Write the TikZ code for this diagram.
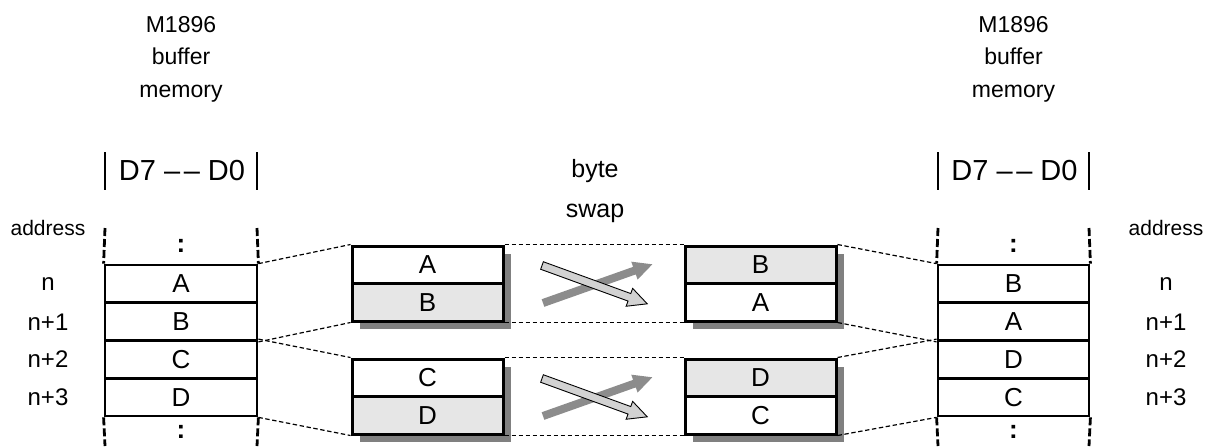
\documentclass[tikz,border=0pt]{standalone}
\usepackage{fontspec}
\setmainfont{Liberation Sans}
\usetikzlibrary{shadows}

\definecolor{cellgray}{HTML}{E6E6E6}
\definecolor{shadowgray}{HTML}{808080}
\definecolor{arrowdark}{HTML}{8C8C8C}
\definecolor{arrowlight}{HTML}{D2D2D2}

% fat arrow: start, angle, length, style
\newcommand{\fatarrow}[4]{%
  \begin{scope}[shift={#1}, rotate=#2]
    \filldraw[#4] (0,-4) -- (#3-19,-4) -- (#3-19,-9.5) -- (#3,0) -- (#3-19,9.5) -- (#3-19,4) -- (0,4) -- cycle;
  \end{scope}}

\begin{document}
\begin{tikzpicture}[x=0.5pt, y=-0.5pt,
  cell/.style={draw, line width=1.4pt, minimum width=76pt, minimum height=18.875pt, inner sep=0pt, font=\fontsize{13}{15}\selectfont},
  swapcell/.style={cell, line width=1.5pt, minimum width=75.5pt, minimum height=18.75pt, fill=white,
    drop shadow={shadow xshift=4pt, shadow yshift=-4pt, fill=shadowgray, opacity=1}},
  hi/.style={fill=cellgray},
  memdash/.style={line width=1.4pt, dash pattern=on 4pt off 1.5pt},
  link/.style={line width=0.6pt, dash pattern=on 2.2pt off 1.3pt},
  head/.style={align=center, font=\fontsize{11.5}{16.25}\selectfont},
  bits/.style={font=\fontsize{14.5}{16}\selectfont},
  addr/.style={font=\fontsize{12}{14}\selectfont},
  dots/.style={font=\fontsize{13}{15}\selectfont\bfseries}]
  \useasboundingbox (0,0) rectangle (1213,446);

  % Left buffer memory
  \node[head] (lhead) at (181,59) {M1896\\buffer\\memory};
  \node[bits] (lbits) at (182,171) {D7 \textendash\kern1.8pt\textendash{} D0};
  \draw[line width=0.7pt] (105,152) -- (105,190);
  \draw[line width=0.7pt] (257,152) -- (257,190);
  \node[font=\fontsize{10.5}{12}\selectfont] (laddr) at (48,228) {address};

  \node[cell] (L1) at (181,283.9) {A};
  \node[cell] (L2) at (181,321.6) {B};
  \node[cell] (L3) at (181,359.4) {C};
  \node[cell] (L4) at (181,397.1) {D};
  \node[dots] (ldot1) at (181,246) {:};
  \node[dots] (ldot2) at (181,432) {:};
  \draw[memdash] (105,228) -- (L1.north west);
  \draw[memdash] (257,228) -- (L1.north east);
  \draw[memdash] (L4.south west) -- (105,446);
  \draw[memdash] (L4.south east) -- (257,446);

  \node[addr] (ln0) at (48,284) {n};
  \node[addr] (ln1) at (48,322) {n+1};
  \node[addr] (ln2) at (48,359) {n+2};
  \node[addr] (ln3) at (48,397) {n+3};

  % Byte swap
  \node[align=center, font=\fontsize{12.5}{20}\selectfont] (swaplbl) at (595,191) {byte\\swap};

  \node[swapcell] (a1) at (427.5,264.75) {A};
  \node[swapcell, hi] (b1) at (427.5,302.25) {B};
  \node[swapcell] (c1) at (427.5,377.75) {C};
  \node[swapcell, hi] (d1) at (427.5,415.25) {D};

  \node[swapcell, hi] (b2) at (760.5,264.75) {B};
  \node[swapcell] (a2) at (760.5,302.25) {A};
  \node[swapcell, hi] (d2) at (760.5,377.75) {D};
  \node[swapcell] (c2) at (760.5,415.25) {C};

  \fatarrow{(543,303)}{19.5}{116}{fill=arrowdark, draw=none}
  \fatarrow{(542,265.5)}{-20}{112}{fill=arrowlight, draw=black, line width=0.45pt}
  \fatarrow{(543,416)}{19.5}{116}{fill=arrowdark, draw=none}
  \fatarrow{(542,378.5)}{-20}{112}{fill=arrowlight, draw=black, line width=0.45pt}

  % Right buffer memory
  \node[head] (rhead) at (1013.5,59) {M1896\\buffer\\memory};
  \node[bits] (rbits) at (1014.5,171) {D7 \textendash\kern1.8pt\textendash{} D0};
  \draw[line width=0.7pt] (938,152) -- (938,190);
  \draw[line width=0.7pt] (1089,152) -- (1089,190);
  \node[font=\fontsize{10.5}{12}\selectfont] (raddr) at (1166,228) {address};

  \node[cell, minimum width=75.5pt] (R1) at (1013.5,283.9) {B};
  \node[cell, minimum width=75.5pt] (R2) at (1013.5,321.6) {A};
  \node[cell, minimum width=75.5pt] (R3) at (1013.5,359.4) {D};
  \node[cell, minimum width=75.5pt] (R4) at (1013.5,397.1) {C};
  \node[dots] (rdot1) at (1013.5,246) {:};
  \node[dots] (rdot2) at (1013.5,432) {:};
  \draw[memdash] (938,228) -- (R1.north west);
  \draw[memdash] (1089,228) -- (R1.north east);
  \draw[memdash] (R4.south west) -- (938,446);
  \draw[memdash] (R4.south east) -- (1089,446);

  \node[addr] (rn0) at (1166,284) {n};
  \node[addr] (rn1) at (1166,322) {n+1};
  \node[addr] (rn2) at (1166,359) {n+2};
  \node[addr] (rn3) at (1166,397) {n+3};

  % Dashed links
  \draw[link] (L1.north east) -- (a1.north west);
  \draw[link] (L2.south east) -- (b1.south west);
  \draw[link] (L3.north east) -- (c1.north west);
  \draw[link] (L4.south east) -- (d1.south west);
  \draw[link] (a1.north east) -- (b2.north west);
  \draw[link] (b1.south east) -- (a2.south west);
  \draw[link] (c1.north east) -- (d2.north west);
  \draw[link] (d1.south east) -- (c2.south west);
  \draw[link] (b2.north east) -- (R1.north west);
  \draw[link] (a2.south east) -- (R2.south west);
  \draw[link] (d2.north east) -- (R3.north west);
  \draw[link] (c2.south east) -- (R4.south west);
\end{tikzpicture}
\end{document}
